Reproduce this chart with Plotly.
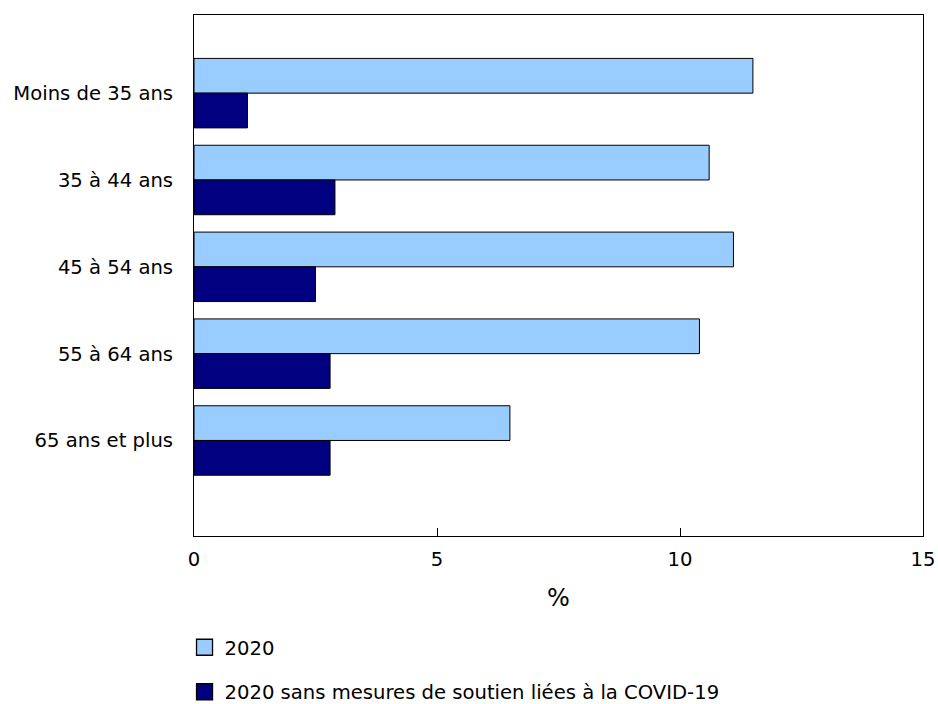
import plotly.graph_objects as go

categories = ["Moins de 35 ans", "35 à 44 ans", "45 à 54 ans", "55 à 64 ans", "65 ans et plus"]
series_names = ["2020", "2020 sans mesures de soutien liées à la COVID-19"]
values_2020 = [11.5, 10.6, 11.1, 10.4, 6.5]
values_sans = [1.1, 2.9, 2.5, 2.8, 2.8]
colors = ["#99CCFF", "#000080"]
x_ticks = [0, 5, 10, 15]

FONT = "DejaVu Sans, Verdana, sans-serif"
FS = 19.6

fig = go.Figure()
for name, vals, col, grp in zip(series_names, [values_2020, values_sans], colors, ["a", "b"]):
    fig.add_trace(go.Bar(
        y=categories, x=vals, name=name, orientation="h",
        marker=dict(color=col, line=dict(color="#000000", width=1)),
        legendgroup=grp, showlegend=False,
    ))
# legend-only entries with larger square swatches (bar legend swatches are fixed small)
for name, col, grp in zip(series_names, colors, ["a", "b"]):
    fig.add_trace(go.Scatter(
        x=[None], y=[None], mode="markers", name=name,
        marker=dict(symbol="square", size=21, color=col, line=dict(color="#000000", width=1.3)),
        legendgroup=grp, showlegend=True, hoverinfo="skip",
    ))

fig.update_layout(
    width=938, height=704,
    margin=dict(l=194, r=15, t=15, b=168, autoexpand=False),
    paper_bgcolor="white", plot_bgcolor="white",
    font=dict(family=FONT, size=FS, color="#000000"),
    barmode="group", bargap=0.2, bargroupgap=0,
    showlegend=True,
    legend=dict(
        x=-0.0130, xanchor="left", y=-0.1766, yanchor="top",
        orientation="v", traceorder="grouped", tracegroupgap=16,
        font=dict(family=FONT, size=FS, color="#000000"),
        itemwidth=30,
    ),
)
fig.update_xaxes(
    range=[0, 15], tickvals=x_ticks, ticktext=[str(t) for t in x_ticks],
    ticks="inside", ticklen=8, tickcolor="#000000", tickwidth=1,
    ticklabelstandoff=5, automargin=False,
    showline=True, linecolor="#000000", linewidth=1, mirror=True,
    showgrid=False, zeroline=False,
    title=dict(text="%", standoff=19),
)
fig.update_yaxes(
    type="category", range=[5.1, -0.9],
    ticks="", ticklabelstandoff=16, automargin=False,
    showline=True, linecolor="#000000", linewidth=1, mirror=True,
    showgrid=False, zeroline=False,
)

fig.write_html(
    "out.html",
    config={"displayModeBar": False},
    post_script=(
        "document.body.style.margin='0px';"
        "document.body.style.overflow='hidden';"
        "document.documentElement.style.overflow='hidden';"
    ),
)
